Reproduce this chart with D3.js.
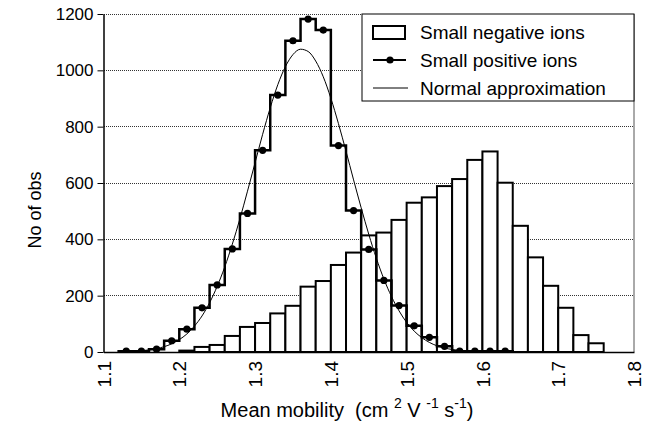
<!DOCTYPE html>
<html><head><meta charset="utf-8">
<script src="https://cdn.jsdelivr.net/npm/d3@7"></script>
<style>body{margin:0;background:#fff}</style>
</head><body>
<svg id="c" width="648" height="426"></svg>
<script>
// Small negative ions: histogram bins (left edge) and counts
const negBinStart = [1.20,1.22,1.24,1.26,1.28,1.30,1.32,1.34,1.36,1.38,1.40,1.42,1.44,1.46,1.48,1.50,1.52,1.54,1.56,1.58,1.60,1.62,1.64,1.66,1.68,1.70,1.72,1.74];
const negCounts   = [5,18,25,57,89,103,137,164,232,252,309,353,414,424,469,530,549,589,614,682,712,601,448,336,235,157,60,31];
// Small positive ions: bin centres and counts
const posCenters = [1.13,1.15,1.17,1.19,1.21,1.23,1.25,1.27,1.29,1.31,1.33,1.35,1.37,1.39,1.41,1.43,1.45,1.47,1.49,1.51,1.53,1.55,1.57,1.59,1.61,1.63];
const posCounts  = [3,3,10,40,81,157,238,366,492,716,912,1105,1182,1143,733,502,364,254,165,93,52,20,3,3,3,3];
// Normal approximation curve, read at 0.01 steps
const normX = [1.12,1.13,1.14,1.15,1.16,1.17,1.18,1.19,1.20,1.21,1.22,1.23,1.24,1.25,1.26,1.27,1.28,1.29,1.30,1.31,1.32,1.33,1.34,1.35,1.36,1.37,1.38,1.39,1.40,1.41,1.42,1.43,1.44,1.45,1.46,1.47,1.48,1.49,1.50,1.51,1.52,1.53,1.54,1.55,1.56,1.57,1.58,1.59,1.60];
const normY = [0.8,1.5,2.6,4.5,7.4,11.9,18.9,29,44,64,92,128,175,233,302,383,473,571,672,773,867,949,1013,1056,1075,1067,1033,977,901,811,713,611,512,418,333,259,197,146,105,74,51,34,22,14,9,5.5,3.2,1.9,1.1];
const binWidth = 0.02;
const xTicks = [1.1,1.2,1.3,1.4,1.5,1.6,1.7,1.8];
const yTicks = [0,200,400,600,800,1000,1200];
const legendLabels = ["Small negative ions","Small positive ions","Normal approximation"];

const svg = d3.select("#c");
const L = 103.5, R = 634, T = 14, B = 352;
const x = d3.scaleLinear().domain([1.1,1.8]).range([L,R]);
const y = d3.scaleLinear().domain([0,1200]).range([B,T]);
const font = "Liberation Sans, Arial, sans-serif";

svg.append("defs").append("clipPath").attr("id","clip")
  .append("rect").attr("x",L).attr("y",T-6).attr("width",R-L).attr("height",B-T+6);

// grid lines
svg.append("g").selectAll("line").data(yTicks.filter(d=>d>0)).join("line")
  .attr("x1",L).attr("x2",R).attr("y1",d=>y(d)).attr("y2",d=>y(d))
  .attr("stroke","#333").attr("stroke-width",1).attr("stroke-dasharray","1,1")
  .attr("shape-rendering","crispEdges");

// right frame
svg.append("line").attr("x1",R).attr("x2",R).attr("y1",T).attr("y2",B)
  .attr("stroke","#555").attr("stroke-width",1);

const plot = svg.append("g").attr("clip-path","url(#clip)");

// negative ions bars
plot.append("g").selectAll("rect").data(negCounts).join("rect")
  .attr("x",(d,i)=>x(negBinStart[i]))
  .attr("width",(d,i)=>x(negBinStart[i]+binWidth)-x(negBinStart[i]))
  .attr("y",d=>y(d)).attr("height",d=>y(0)-y(d))
  .attr("fill","#fff").attr("stroke","#000").attr("stroke-width",2);

// positive ions step line
const stepPts = [[posCenters[0]-binWidth/2,0]];
posCounts.forEach((c,i)=>{
  stepPts.push([posCenters[i]-binWidth/2,c]);
  stepPts.push([posCenters[i]+binWidth/2,c]);
});
stepPts.push([posCenters[posCenters.length-1]+binWidth/2,0]);
plot.append("path").datum(stepPts)
  .attr("d",d3.line().x(d=>x(d[0])).y(d=>y(d[1])))
  .attr("fill","none").attr("stroke","#000").attr("stroke-width",2.5).attr("stroke-linejoin","miter");

// normal approximation
plot.append("path").datum(normX.map((v,i)=>[v,normY[i]]))
  .attr("d",d3.line().x(d=>x(d[0])).y(d=>y(d[1])).curve(d3.curveMonotoneX))
  .attr("fill","none").attr("stroke","#000").attr("stroke-width",1);

// points
plot.append("g").selectAll("circle").data(posCounts).join("circle")
  .attr("cx",(d,i)=>x(posCenters[i])).attr("cy",d=>y(d)).attr("r",3.6).attr("fill","#000");

// axes
const yAxis = svg.append("g").attr("transform",`translate(${L},0)`)
  .call(d3.axisLeft(y).tickValues(yTicks).tickSize(6).tickPadding(4).tickSizeOuter(0).tickFormat(d3.format("d")));
yAxis.selectAll("text").attr("font-family",font).attr("font-size",17).attr("fill","#000");
yAxis.select(".domain").attr("stroke","#000").attr("stroke-width",1.5);

const xAxis = svg.append("g").attr("transform",`translate(0,${B})`)
  .call(d3.axisBottom(x).tickValues(xTicks).tickSize(0).tickSizeOuter(0).tickFormat(d3.format(".1f")));
xAxis.select(".domain").attr("stroke","#000").attr("stroke-width",1.5);
xAxis.selectAll("text").attr("font-family",font).attr("font-size",19).attr("fill","#000")
  .attr("transform","rotate(-90)").attr("text-anchor","end")
  .attr("x",-9).attr("y",0).attr("dy","0.35em");

// axis titles
svg.append("text").attr("transform","translate(41,210) rotate(-90)")
  .attr("text-anchor","middle").attr("font-family",font).attr("font-size",18).text("No of obs");
const xt = svg.append("text").attr("x",347).attr("y",417).attr("text-anchor","middle")
  .attr("font-family",font).attr("font-size",20).style("white-space","pre");
xt.append("tspan").text("Mean mobility  (cm ");
xt.append("tspan").attr("dy",-9).attr("font-size",14).text("2");
xt.append("tspan").attr("dy",9).text(" V ");
xt.append("tspan").attr("dy",-9).attr("font-size",14).text("-1");
xt.append("tspan").attr("dy",9).text(" s");
xt.append("tspan").attr("dy",-9).attr("font-size",14).text("-1");
xt.append("tspan").attr("dy",9).text(")");

// legend
const lg = svg.append("g");
lg.append("rect").attr("x",362).attr("y",T).attr("width",R-362).attr("height",87)
  .attr("fill","#fff").attr("stroke","#000").attr("stroke-width",1);
const rows = [32,60,88];
lg.append("rect").attr("x",373).attr("y",26).attr("width",32).attr("height",13)
  .attr("fill","#fff").attr("stroke","#000").attr("stroke-width",2);
lg.append("line").attr("x1",373).attr("x2",406).attr("y1",rows[1]).attr("y2",rows[1])
  .attr("stroke","#000").attr("stroke-width",2);
lg.append("circle").attr("cx",390).attr("cy",rows[1]).attr("r",3.6).attr("fill","#000");
lg.append("line").attr("x1",373).attr("x2",408).attr("y1",rows[2]).attr("y2",rows[2])
  .attr("stroke","#000").attr("stroke-width",1);
lg.selectAll("text.l").data(legendLabels).join("text").attr("class","l")
  .attr("x",420).attr("y",(d,i)=>rows[i]).attr("dy","0.35em")
  .attr("font-family",font).attr("font-size",19).text(d=>d);
</script>
</body></html>
